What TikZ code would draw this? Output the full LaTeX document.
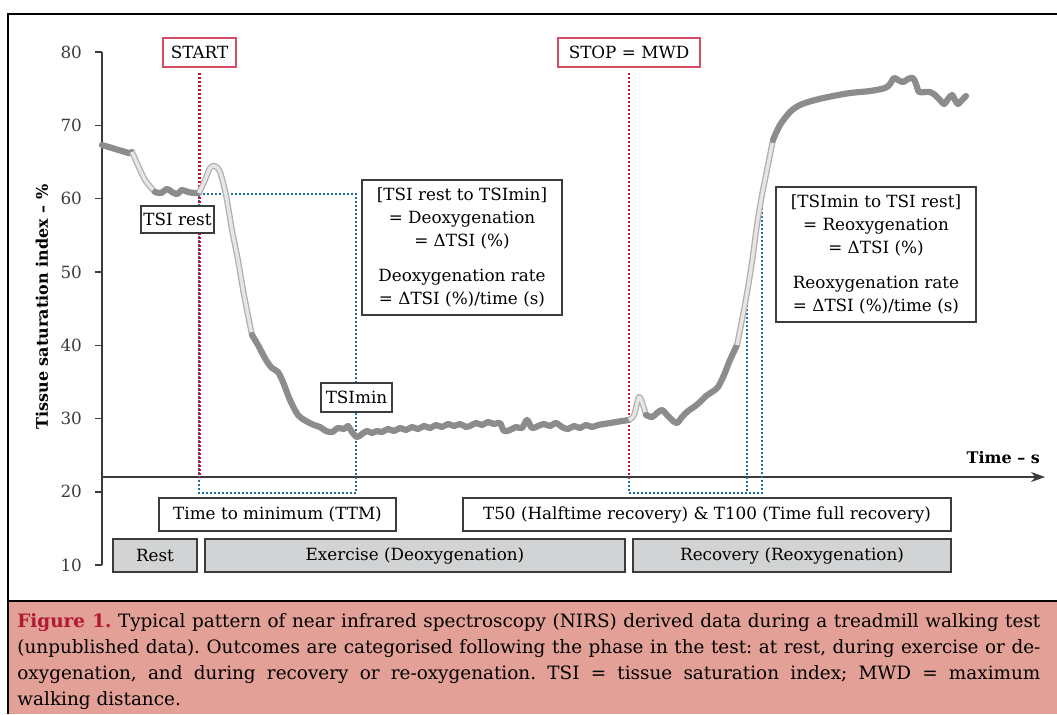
\documentclass[tikz,border=0pt]{standalone}
\usepackage{fontspec}
\setmainfont{DejaVu Serif}
\usetikzlibrary{arrows.meta}

\definecolor{stopred}{HTML}{C8102E}
\definecolor{markblue}{HTML}{1F6FA3}
\definecolor{boxline}{HTML}{3C3C3C}
\definecolor{phasegray}{HTML}{D1D3D4}
\definecolor{tracedark}{HTML}{8C8C8C}
\definecolor{tracelight}{HTML}{B0B0B0}
\definecolor{tracepale}{HTML}{E6E6E6}
\definecolor{captionpink}{HTML}{E2A096}
\definecolor{figred}{HTML}{B01A32}

\tikzset{
  textbox/.style={draw=boxline, fill=white, line width=.6pt, inner sep=0pt, align=center},
  phasebox/.style={draw=boxline, fill=phasegray, line width=.6pt, inner sep=0pt, minimum height=16.5pt},
  markbox/.style={draw=stopred!75, fill=white, line width=.6pt, inner sep=0pt, minimum height=14.5pt},
  reddots/.style={stopred, line width=1.15pt, dash pattern=on 1pt off 1pt},
  bluedots/.style={markblue, line width=1.15pt, dash pattern=on 1pt off 1pt},
  trace/.style={tracedark, line width=3.1pt, line join=round, line cap=round},
  trace light/.style={tracelight, line width=.65pt, double=tracepale, double distance=1.7pt, line join=round}
}

\begin{document}
\begin{tikzpicture}[x=.5pt, y=-.5pt, font=\fontsize{8.4}{11.5}\selectfont]
  \useasboundingbox (0,0) rectangle (1057,714);

  \fill[captionpink] (8,601) rectangle (1057,714);
  \draw[line width=.6pt] (8,601) -- (1057,601);
  \draw[line width=1pt] (8,714) -- (8,14) -- (1057,14);

  % axes
  \draw[boxline, line width=.7pt] (102,52) -- (102,565);
  \foreach \v in {10,20,...,80} {
      \draw[boxline, line width=.7pt] (95,{52+(80-\v)*7.33}) -- (102,{52+(80-\v)*7.33});
      \node[anchor=east, boxline, font=\fontsize{8.4}{10}\selectfont] (tick\v) at (89,{52+(80-\v)*7.33}) {\v};
    }
  \coordinate (origin) at (102,477);
  \coordinate (xend) at (1045,477);
  \draw[boxline, line width=.7pt, -{Stealth[length=7pt, width=5pt]}] (origin) -- (xend);
  \node[rotate=90, font=\fontsize{8}{10}\selectfont\bfseries] (ylabel) at (42,307) {Tissue saturation index – \%};
  \node[anchor=east, font=\fontsize{8}{10}\selectfont\bfseries] (xlabel) at (1047,458) {Time – s};

  \node[markbox, minimum width=36.5pt] (start) at (199.5,52.5) {START};
  \node[markbox, minimum width=71pt] (stop) at (629,52.5) {STOP = MWD};

  % deoxygenation window
  \coordinate (restpt) at (199,194);
  \coordinate (minpt) at (356,194);
  \coordinate (ttmend) at (356,493);
  \coordinate (ttmstart) at (199,493);
  \draw[bluedots] (restpt) -- (minpt) -- (ttmend) -- (ttmstart) -- (restpt);
  \draw[reddots] ([yshift=-2.5pt]start.south) -- (start.south |- origin);

  % recovery window
  \coordinate (stopfoot) at (629,477);
  \coordinate (halfpt) at (747,293);
  \coordinate (fullpt) at (762,192);
  \draw[bluedots] (stopfoot) -- (629,493) -- (762,493) -- (fullpt);
  \draw[bluedots] (halfpt) -- (halfpt |- ttmend);
  \draw[reddots] ([yshift=-2.5pt]stop.south) -- (stopfoot);

  % NIRS trace
  \draw[trace] plot[smooth, tension=.5] coordinates {
      (102,145) (112,148) (122,151) (129,153) (132,152)};
  \draw[trace light] plot[smooth, tension=.5] coordinates {
      (132,152) (137,163) (145,180) (155,192)};
  \draw[trace] plot[smooth, tension=.5] coordinates {
      (155,192) (161,193) (167,189) (172,192) (177,194) (182,190) (188,192) (194,193) (199,193)};
  \draw[trace light] plot[smooth, tension=.5] coordinates {
      (199,193) (205,180) (210,168) (215,166) (220,172) (226,195) (232,230) (238,260) (244,295) (252,335)};
  \draw[trace] plot[smooth, tension=.5] coordinates {
      (252,335) (258,345) (266,360) (272,368) (278,372) (283,382) (290,400) (298,415) (306,421)
      (314,425) (320,427) (326,431) (332,432) (338,428) (344,429) (348,426) (352,432) (357,437)
      (362,434) (367,431) (372,433) (377,431) (382,432) (388,429) (394,431) (400,428) (406,430)
      (412,427) (418,429) (424,426) (430,428) (436,425) (442,427) (448,424) (454,426) (460,424)
      (466,427) (470,426) (476,423) (482,425) (488,422) (494,424) (500,423) (504,431) (510,430)
      (516,427) (522,428) (527,420) (532,428) (538,426) (544,424) (550,426) (556,423) (562,427)
      (568,429) (574,426) (580,428) (586,425) (592,427) (598,425) (604,424) (610,423) (616,422)
      (622,421) (629,420)};
  \draw[trace light] plot[smooth, tension=.5] coordinates {
      (629,420) (634,415) (639,397) (643,405) (646,415)};
  \draw[trace] plot[smooth, tension=.5] coordinates {
      (646,415) (652,417) (657,413) (662,410) (667,415) (672,420) (677,423) (682,417) (688,411)
      (694,407) (700,402) (706,396) (712,392) (718,387) (724,375) (730,360) (737,345)};
  \draw[trace light] plot[smooth, tension=.5] coordinates {
      (737,345) (742,320) (747,293) (752,262) (757,225) (762,195) (767,170) (773,140)};
  \draw[trace] plot[smooth, tension=.5] coordinates {
      (773,140) (780,125) (790,112) (800,105) (815,100) (833,96) (850,93) (870,91) (885,88)
      (890,84) (894,78) (898,80) (903,82) (908,79) (913,78) (916,84) (919,92) (925,92) (930,92)
      (935,95) (940,100) (944,104) (948,99) (952,95) (955,100) (958,104) (962,100) (966,96)};

  \node[textbox, minimum width=36.5pt, minimum height=13.5pt] (tsirest) at (177.5,219.5) {TSI rest};
  \node[textbox, minimum width=35.5pt, minimum height=14.5pt] (tsimin) at (356.5,397.5) {TSImin};
  \node[textbox, minimum width=100pt, minimum height=67.5pt] (deox) at (462,247.5)
    {[TSI rest to TSImin]\\ = Deoxygenation\\ = ΔTSI (\%)\\[6pt] Deoxygenation rate\\ = ΔTSI (\%)/time (s)};
  \node[textbox, minimum width=100pt, minimum height=67.5pt] (reox) at (876,254.5)
    {[TSImin to TSI rest]\\ = Reoxygenation\\ = ΔTSI (\%)\\[6pt] Reoxygenation rate\\ = ΔTSI (\%)/time (s)};

  \node[textbox, minimum width=118.5pt, minimum height=16.5pt] (ttm) at (277.5,514.5) {Time to minimum (TTM)};
  \node[textbox, minimum width=244pt, minimum height=16.5pt] (tfull) at (707,514.5) {T50 (Halftime recovery) \& T100 (Time full recovery)};
  \node[phasebox, minimum width=42pt] (rest) at (155,555.5) {Rest};
  \node[phasebox, minimum width=210pt] (exercise) at (415,555.5) {Exercise (Deoxygenation)};
  \node[phasebox, minimum width=159pt] (recovery) at (792,555.5) {Recovery (Reoxygenation)};

  \node[anchor=north west, text width=511.5pt, align=justify, inner sep=0pt, font=\fontsize{9.2}{13}\selectfont\frenchspacing] (caption) at (17,613)
    {\textcolor{figred}{\textbf{Figure 1.}} Typical pattern of near infrared spectroscopy (NIRS) derived data during a treadmill walking test\linebreak
     (unpublished data). Outcomes are categorised following the phase in the test: at rest, during exercise or de-\linebreak
     oxygenation, and during recovery or re-oxygenation. TSI = tissue saturation index; MWD = maximum\linebreak
     walking distance.};
\end{tikzpicture}
\end{document}
